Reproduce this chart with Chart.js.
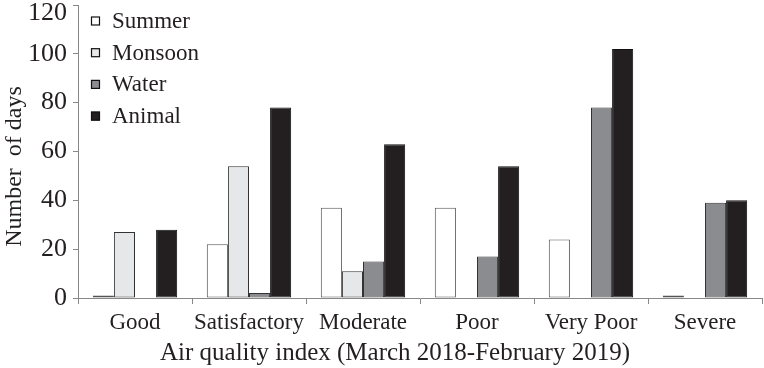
<!DOCTYPE html>
<html>
<head>
  <title>Air quality index days</title>
  <style>
    html, body { margin: 0; padding: 0; background: #fff; }
    #wrap { width: 764px; height: 368px; }
  </style>
</head>
<body>
<div id="wrap"><canvas id="myCanvas"></canvas></div>
<script src="https://cdn.jsdelivr.net/npm/chart.js@4/dist/chart.umd.min.js"></script>
<script>
  // ---------- data ----------
  var categories = ['Good', 'Satisfactory', 'Moderate', 'Poor', 'Very Poor', 'Severe'];
  var summer  = [1, 22, 37, 37, 24, 1];
  var monsoon = [27, 54, 11, 0, 0, 0];
  var water   = [0, 2, 15, 17, 78, 39];
  var animal  = [28, 78, 63, 54, 102, 40];
  var yTicks  = [0, 20, 40, 60, 80, 100, 120];

  var ink = '#231f20';
  var serif = '"Liberation Serif", "Times New Roman", serif';

  // legend drawn inside the plot, top-left
  var innerLegend = {
    id: 'innerLegend',
    afterDraw: function(chart) {
      var ctx = chart.ctx;
      var x = chart.chartArea.left + 13;
      var y = 21;
      ctx.save();
      ctx.font = '23px ' + serif;
      ctx.textBaseline = 'middle';
      chart.data.datasets.forEach(function(ds, i) {
        var cy = y + i * 31.7;
        ctx.fillStyle = ds.backgroundColor;
        ctx.fillRect(x, cy - 4.5, 9, 9);
        ctx.strokeStyle = '#111';
        ctx.lineWidth = 1.2;
        ctx.strokeRect(x + 0.5, cy - 4, 8, 8);
        ctx.fillStyle = ink;
        ctx.fillText(ds.label, x + 21, cy + 1);
      });
      ctx.restore();
    }
  };

  var chart = new Chart(document.getElementById('myCanvas'), {
    type: 'bar',
    data: {
      labels: categories,
      datasets: [
        { label: 'Summer',  data: summer,  backgroundColor: '#ffffff', borderColor: '#555' },
        { label: 'Monsoon', data: monsoon, backgroundColor: '#e6e7e8', borderColor: '#333' },
        { label: 'Water',   data: water,   backgroundColor: '#8b8c8f', borderColor: '#333' },
        { label: 'Animal',  data: animal,  backgroundColor: '#231f20', borderColor: '#111' }
      ]
    },
    options: {
      responsive: true,
      maintainAspectRatio: false,
      animation: false,
      datasets: {
        bar: { categoryPercentage: 0.74, barPercentage: 1.0, borderWidth: 1, borderSkipped: false }
      },
      layout: { padding: { top: 5, right: 2, left: 0, bottom: 0 } },
      plugins: {
        legend: { display: false },
        tooltip: { enabled: false }
      },
      scales: {
        x: {
          afterFit: function(scale) { scale.height = 70; },
          grid: { display: true, drawOnChartArea: false, offset: true, tickLength: 6, color: '#888' },
          border: { display: true, color: '#888', width: 1 },
          ticks: { color: ink, font: { family: serif, size: 23 }, padding: 5, maxRotation: 0, autoSkip: false },
          title: {
            display: true,
            // trailing spaces nudge the title left like the original
            text: 'Air quality index (March 2018-February 2019)        ',
            color: ink,
            font: { family: serif, size: 25, lineHeight: 1.2 },
            padding: { top: 0, bottom: 0 }
          }
        },
        y: {
          min: 0,
          max: 120,
          afterBuildTicks: function(scale) {
            scale.ticks = yTicks.map(function(v) { return { value: v }; });
          },
          afterFit: function(scale) { scale.paddingTop = 0; scale.width = 78; },
          grid: { display: true, drawOnChartArea: false, tickLength: 5, color: '#888' },
          border: { display: true, color: '#888', width: 1 },
          ticks: {
            color: ink,
            font: { family: serif, size: 26, lineHeight: 0.6 },
            padding: 6,
            callback: function(v) { return v === 120 ? ['', '120'] : String(v); }
          },
          title: {
            display: true,
            text: 'Number  of days     ',
            color: ink,
            font: { family: serif, size: 24, lineHeight: 1.2 },
            padding: { top: 0, bottom: 0 }
          }
        }
      }
    },
    plugins: [innerLegend]
  });
</script>
</body>
</html>
